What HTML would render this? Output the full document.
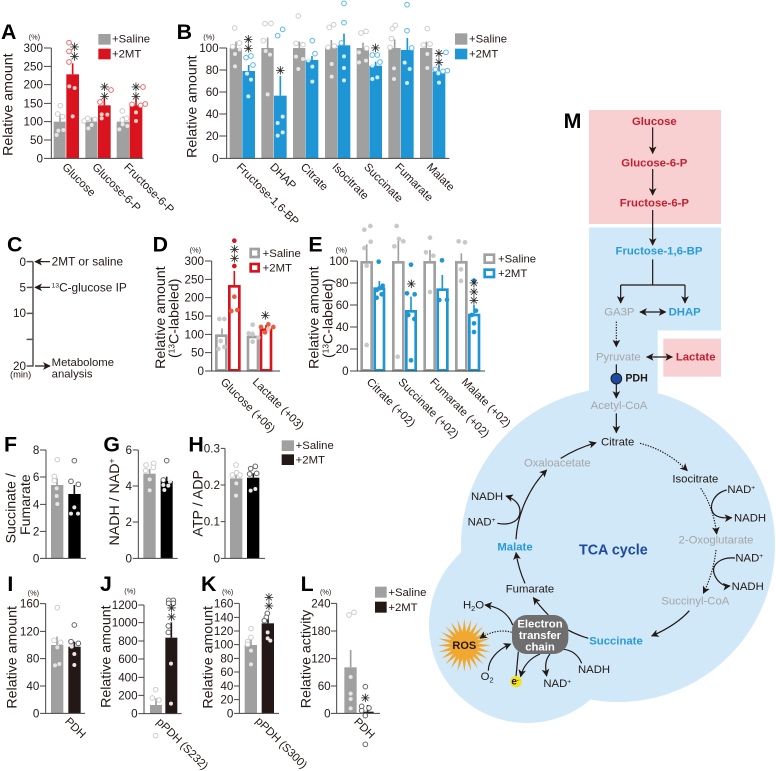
<!DOCTYPE html>
<html><head><meta charset="utf-8">
<style>
html,body{margin:0;padding:0;background:#fff}
svg{display:block}
text{font-family:"Liberation Sans",sans-serif;fill:#231815}
.tk{font-size:35px;text-anchor:end;fill:#231815}
.y{font-size:42.6px;text-anchor:middle;fill:#231815}
.l{font-size:34px;fill:#231815}
.p{font-size:22px;text-anchor:middle;fill:#231815}
.h{font-size:64px;font-weight:bold;fill:#000}
.s{font-family:"DejaVu Sans",sans-serif;font-size:34px;text-anchor:middle;fill:#222;stroke:#222;stroke-width:.7}
.ax{fill:none;stroke:#444;stroke-width:3}
.g{fill:#a0a0a0}.r{fill:#d9141e}.b{fill:#1e96d6}.k{fill:#000}.n{fill:#231815}
.eg{stroke:#a0a0a0;stroke-width:5}.er{stroke:#d9141e;stroke-width:5}.eb{stroke:#1e96d6;stroke-width:5}.ek{stroke:#231815;stroke-width:5}
circle{r:7px}
.gf circle,.rf circle,.bf circle,.kf circle{r:6px}
.go{fill:#fff;stroke:#ccc;stroke-width:3}.gf{fill:#e6e6e6}
.ro{fill:#fff;stroke:#ef6a6a;stroke-width:3}.rf{fill:#fcd0c8}
.bo{fill:#fff;stroke:#5bb8ea;stroke-width:3}.bf{fill:#d5ecf8}
.ko{fill:#fff;stroke:#666;stroke-width:3}.kf{fill:#e8e8e8}
.gs{fill:#c8c8c8}.bs{fill:#1e96d6}.os{fill:#ea5a3c}.rs{fill:#d9141e}
.og{fill:#fff;stroke:#a0a0a0;stroke-width:8}.orr{fill:#fff;stroke:#d9141e;stroke-width:8}.ob{fill:#fff;stroke:#1e96d6;stroke-width:8}
.a{fill:none;stroke:#231815;stroke-width:3.6;marker-end:url(#ah)}
.a2{fill:none;stroke:#231815;stroke-width:3.6;marker-end:url(#ah);marker-start:url(#ah)}
.d{fill:none;stroke:#231815;stroke-width:3.5;stroke-dasharray:4 4;marker-end:url(#ah)}
.ln{fill:none;stroke:#231815;stroke-width:3.6}
.m{font-size:34px;fill:#231815}
.mc{font-size:34px;fill:#231815;text-anchor:middle}
.mg{font-size:34px;fill:#a6a6a6;text-anchor:middle}
.mb{font-size:34px;font-weight:bold;fill:#2a9ad8;text-anchor:middle}
.mr{font-size:34px;font-weight:bold;fill:#c41e30;text-anchor:middle}
.mw{font-size:34px;font-weight:bold;fill:#fff;text-anchor:middle}
</style></head><body>
<svg xmlns="http://www.w3.org/2000/svg" width="776" height="771" viewBox="0 0 776 771">
<defs>
<marker id="ah" viewBox="0 0 10 10" refX="9" refY="5" markerUnits="userSpaceOnUse" markerWidth="23" markerHeight="23" orient="auto-start-reverse"><path d="M0 0L10 5L0 10L2.5 5z" fill="#231815"/></marker>
<path id="ray" d="M-6 -36L0 -80L6 -36z" fill="#f0a830"/>
</defs>

<!-- M background -->
<g fill="#d0e8f7">
<circle style="r:157px" cx="618" cy="545"/>
<circle style="r:98px" cx="527" cy="625"/>
<rect x="589" y="227.5" width="132" height="103"/>
<rect x="589" y="330" width="68.7" height="70"/>
</g>
<rect x="589" y="110" width="132" height="114" fill="#f8d0d2"/>
<rect x="663.3" y="338.7" width="57.7" height="38" fill="#f8d0d2"/>

<!-- A -->
<g transform="scale(.33333)">
<text class="h" x="3" y="117">A</text>
<text class="p" x="103" y="118">(%)</text>
<g class="tk"><text class="tk" x="129" y="156">300</text><text class="tk" x="129" y="211">250</text><text class="tk" x="129" y="266">200</text><text class="tk" x="129" y="322">150</text><text class="tk" x="129" y="377">100</text><text class="tk" x="129" y="432">50</text><text class="tk" x="129" y="487">0</text></g>
<text class="y" transform="translate(37 314) rotate(-90)">Relative amount</text>
<rect class="g" x="161" y="365" width="36" height="110"/><rect class="r" x="199" y="223" width="38" height="252"/>
<rect class="g" x="256" y="365" width="37" height="110"/><rect class="r" x="294" y="316" width="38" height="159"/>
<rect class="g" x="350" y="365" width="38" height="110"/><rect class="r" x="389" y="316" width="38" height="159"/>
<path class="eg" d="M180 365V340M275 365V352M369 365V350"/><path class="er" d="M218 223V190M313 316V295M408 316V295"/>
<path class="ax" d="M154 144V475H430M132 144H154M132 199H154M132 254H154M132 310H154M132 365H154M132 420H154M132 475H154"/>
<g class="go"><circle cx="181" cy="317"/><circle cx="173" cy="342"/><circle cx="188" cy="350"/><circle cx="252" cy="363"/><circle cx="263" cy="355"/><circle cx="285" cy="358"/><circle cx="367" cy="333"/><circle cx="380" cy="355"/><circle cx="367" cy="360"/></g>
<g class="gf"><circle cx="170" cy="405"/><circle cx="190" cy="390"/><circle cx="175" cy="392"/><circle cx="275" cy="375"/><circle cx="265" cy="385"/><circle cx="358" cy="388"/><circle cx="382" cy="378"/><circle cx="368" cy="373"/></g>
<g class="ro"><circle cx="207" cy="128"/><circle cx="207" cy="154"/><circle cx="207" cy="186"/><circle cx="333" cy="270"/><circle cx="300" cy="306"/><circle cx="429" cy="261"/><circle cx="396" cy="313"/><circle cx="422" cy="316"/><circle cx="436" cy="312"/></g>
<g class="rf"><circle cx="208" cy="259"/><circle cx="224" cy="264"/><circle cx="218" cy="349"/><circle cx="322" cy="344"/><circle cx="305" cy="355"/><circle cx="305" cy="343"/><circle cx="408" cy="363"/><circle cx="408" cy="337"/></g>
<text class="s" x="224" y="153">✳</text><text class="s" x="224" y="181">✳</text><text class="s" x="314" y="273">✳</text><text class="s" x="314" y="301">✳</text><text class="s" x="408" y="273">✳</text><text class="s" x="408" y="301">✳</text>
<rect class="g" x="295" y="102" width="37" height="32"/><rect class="r" x="295" y="146" width="37" height="32"/>
<text class="l" x="336" y="128">+Saline</text><text class="l" x="336" y="172">+2MT</text>
<text class="l" transform="translate(185 503) rotate(45)">Glucose</text>
<text class="l" transform="translate(275 503) rotate(45)">Glucose-6-P</text>
<text class="l" transform="translate(370 503) rotate(45)">Fructose-6-P</text>
</g>

<!-- B -->
<g transform="translate(180 0) scale(.33333)">
<text class="h" x="-10" y="117">B</text>
<text class="p" x="87" y="118">(%)</text>
<text class="tk" x="116" y="156">100</text><text class="tk" x="116" y="222">80</text><text class="tk" x="116" y="288">60</text><text class="tk" x="116" y="354">40</text><text class="tk" x="116" y="420">20</text><text class="tk" x="116" y="487">0</text>
<text class="y" transform="translate(50 320) rotate(-90)">Relative amount</text>
<g class="g"><rect x="149" y="144" width="37" height="331"/><rect x="244" y="144" width="37" height="331"/><rect x="339" y="144" width="37" height="331"/><rect x="435" y="144" width="37" height="331"/><rect x="530" y="144" width="37" height="331"/><rect x="625" y="144" width="37" height="331"/><rect x="720" y="144" width="37" height="331"/></g>
<g class="b"><rect x="187" y="213" width="38" height="262"/><rect x="282" y="287" width="38" height="188"/><rect x="377" y="180" width="38" height="295"/><rect x="473" y="136" width="38" height="339"/><rect x="568" y="197" width="38" height="278"/><rect x="663" y="150" width="38" height="325"/><rect x="758" y="215" width="38" height="260"/></g>
<path class="eg" d="M168 144V125M263 144V113M358 144V125M454 144V120M549 144V128M644 144V118M739 144V125"/>
<path class="eb" d="M206 213V195M301 287V228M396 180V168M492 136V101M587 197V185M682 150V114M777 215V197"/>
<path class="ax" d="M140 144V475H808M118 144H140M118 210H140M118 276H140M118 342H140M118 408H140M118 475H140"/>
<g class="go"><circle cx="164" cy="84"/><circle cx="158" cy="140"/><circle cx="178" cy="129"/><circle cx="255" cy="71"/><circle cx="273" cy="70"/><circle cx="250" cy="122"/><circle cx="355" cy="48"/><circle cx="348" cy="130"/><circle cx="369" cy="134"/><circle cx="448" cy="82"/><circle cx="461" cy="74"/><circle cx="463" cy="138"/><circle cx="444" cy="142"/><circle cx="543" cy="99"/><circle cx="558" cy="94"/><circle cx="560" cy="145"/><circle cx="637" cy="86"/><circle cx="646" cy="76"/><circle cx="634" cy="116"/><circle cx="630" cy="142"/><circle cx="742" cy="86"/><circle cx="730" cy="135"/><circle cx="750" cy="132"/></g>
<g class="gf"><circle cx="165" cy="162"/><circle cx="179" cy="148"/><circle cx="165" cy="199"/><circle cx="257" cy="153"/><circle cx="270" cy="164"/><circle cx="263" cy="283"/><circle cx="348" cy="170"/><circle cx="369" cy="177"/><circle cx="355" cy="207"/><circle cx="455" cy="192"/><circle cx="455" cy="230"/><circle cx="537" cy="157"/><circle cx="558" cy="182"/><circle cx="537" cy="187"/><circle cx="642" cy="205"/><circle cx="642" cy="237"/><circle cx="742" cy="162"/><circle cx="742" cy="204"/></g>
<g class="bo"><circle cx="198" cy="173"/><circle cx="213" cy="168"/><circle cx="219" cy="195"/><circle cx="293" cy="107"/><circle cx="308" cy="88"/><circle cx="397" cy="122"/><circle cx="405" cy="161"/><circle cx="492" cy="10"/><circle cx="492" cy="68"/><circle cx="484" cy="129"/><circle cx="577" cy="165"/><circle cx="592" cy="165"/><circle cx="600" cy="186"/><circle cx="681" cy="14"/><circle cx="681" cy="92"/><circle cx="695" cy="144"/><circle cx="766" cy="208"/><circle cx="798" cy="157"/><circle cx="802" cy="212"/><circle cx="789" cy="214"/></g>
<g class="bf"><circle cx="201" cy="221"/><circle cx="213" cy="239"/><circle cx="205" cy="289"/><circle cx="308" cy="350"/><circle cx="293" cy="369"/><circle cx="308" cy="397"/><circle cx="293" cy="407"/><circle cx="385" cy="181"/><circle cx="397" cy="200"/><circle cx="397" cy="245"/><circle cx="492" cy="169"/><circle cx="492" cy="204"/><circle cx="492" cy="241"/><circle cx="577" cy="197"/><circle cx="577" cy="237"/><circle cx="592" cy="232"/><circle cx="674" cy="188"/><circle cx="689" cy="207"/><circle cx="681" cy="249"/><circle cx="775" cy="220"/><circle cx="777" cy="248"/></g>
<text class="s" x="205" y="131">✳</text><text class="s" x="205" y="158">✳</text><text class="s" x="301" y="223">✳</text><text class="s" x="587" y="156">✳</text><text class="s" x="777" y="173">✳</text><text class="s" x="777" y="199">✳</text>
<rect class="g" x="825" y="100" width="37" height="34"/><rect class="b" x="825" y="146" width="37" height="32"/>
<text class="l" x="867" y="128">+Saline</text><text class="l" x="867" y="172">+2MT</text>
<text class="l" transform="translate(168 503) rotate(45)">Fructose-1,6-BP</text>
<text class="l" transform="translate(268 503) rotate(45)">DHAP</text>
<text class="l" transform="translate(360 503) rotate(45)">Citrate</text>
<text class="l" transform="translate(455 503) rotate(45)">Isocitrate</text>
<text class="l" transform="translate(550 503) rotate(45)">Succinate</text>
<text class="l" transform="translate(643 503) rotate(45)">Fumarate</text>
<text class="l" transform="translate(738 503) rotate(45)">Malate</text>
</g>

<!-- C D -->
<g transform="translate(0 215) scale(.33333)">
<text class="h" x="21" y="110">C</text>
<path d="M99 140V455M80 140H99M80 217H99M80 295H99M80 373H99M80 453H99" fill="none" stroke="#5a5050" stroke-width="4.5"/>
<text class="tk" x="78" y="153">0</text><text class="tk" x="78" y="229">5</text><text class="tk" x="78" y="306">10</text><text class="tk" x="78" y="465">20</text>
<text class="l" x="30" y="488" style="font-size:28px">(min)</text>
<path class="a" d="M150 140H105"/><path class="a" d="M150 217H105"/><path class="a" d="M105 453H150"/>
<text class="l" x="155" y="152" style="font-size:35.5px">2MT or saline</text>
<text class="l" x="155" y="229" style="font-size:35.5px"><tspan font-size="20" dy="-11">13</tspan><tspan dy="11">C-glucose IP</tspan></text>
<text class="l" x="155" y="453">Metabolome</text><text class="l" x="155" y="488">analysis</text>

<text class="h" x="458" y="110">D</text>
<text class="p" x="586" y="112">(%)</text>
<text class="tk" x="612" y="150">300</text><text class="tk" x="612" y="205">250</text><text class="tk" x="612" y="260">200</text><text class="tk" x="612" y="315">150</text><text class="tk" x="612" y="370">100</text><text class="tk" x="612" y="425">50</text><text class="tk" x="612" y="480">0</text>
<text class="y" transform="translate(495 308) rotate(-90)">Relative amount</text>
<text class="y" transform="translate(535 310) rotate(-90)">(<tspan font-size="25" dy="-12">13</tspan><tspan dy="12">C-labeled)</tspan></text>
<rect class="og" x="649" y="362" width="30" height="104"/><rect class="orr" x="688" y="214" width="30" height="252"/>
<rect class="og" x="744" y="366" width="30" height="100"/><rect class="orr" x="783" y="344" width="30" height="122"/>
<path class="eg" d="M666 358V340M758 362V350"/><path class="er" d="M703 210V168M798 340V330"/>
<path class="ax" d="M635 138V468H840M615 138H635M615 193H635M615 248H635M615 303H635M615 358H635M615 413H635M615 468H635"/>
<g class="gs"><circle cx="658" cy="312"/><circle cx="673" cy="312"/><circle cx="662" cy="378"/><circle cx="673" cy="396"/><circle cx="655" cy="402"/><circle cx="758" cy="329"/><circle cx="746" cy="355"/><circle cx="758" cy="358"/><circle cx="775" cy="368"/><circle cx="758" cy="380"/></g>
<g class="rs"><circle cx="703" cy="77"/><circle cx="703" cy="153"/></g>
<g class="os"><circle cx="703" cy="245"/><circle cx="694" cy="288"/><circle cx="712" cy="285"/><circle cx="783" cy="336"/><circle cx="805" cy="328"/><circle cx="820" cy="336"/><circle cx="795" cy="352"/></g>
<circle cx="805" cy="342" fill="#f9c8b8"/>
<text class="s" x="704" y="116">✳</text><text class="s" x="704" y="143">✳</text><text class="s" x="796" y="314">✳</text>
<rect class="og" x="752" y="102" width="24" height="24"/><rect class="orr" x="752" y="147" width="24" height="22"/>
<text class="l" x="788" y="126">+Saline</text><text class="l" x="788" y="170">+2MT</text>
<text class="l" transform="translate(660 503) rotate(45)">Glucose (+06)</text>
<text class="l" transform="translate(756 503) rotate(45)">Lactate (+03)</text>
</g>

<!-- E -->
<g transform="translate(270 215) scale(.33333)">
<text class="h" x="115" y="110">E</text>
<text class="p" x="214" y="112">(%)</text>
<text class="tk" x="236" y="150">100</text><text class="tk" x="236" y="216">80</text><text class="tk" x="236" y="282">60</text><text class="tk" x="236" y="348">40</text><text class="tk" x="236" y="414">20</text><text class="tk" x="236" y="480">0</text>
<text class="y" transform="translate(145 308) rotate(-90)">Relative amount</text>
<text class="y" transform="translate(187 310) rotate(-90)">(<tspan font-size="25" dy="-12">13</tspan><tspan dy="12">C-labeled)</tspan></text>
<rect class="og" x="275" y="142" width="30" height="324"/><rect class="ob" x="314" y="221" width="28" height="245"/>
<rect class="og" x="370" y="142" width="30" height="324"/><rect class="ob" x="409" y="289" width="28" height="177"/>
<rect class="og" x="464" y="142" width="30" height="324"/><rect class="ob" x="503" y="224" width="29" height="242"/>
<rect class="og" x="559" y="142" width="30" height="324"/><rect class="ob" x="598" y="300" width="29" height="166"/>
<path class="eg" d="M290 138V88M385 138V75M480 138V105M574 138V115"/><path class="eb" d="M328 217V198M423 285V245M517 220V180M612 296V270"/>
<path class="ax" d="M262 138V468H645M240 138H262M240 204H262M240 270H262M240 336H262M240 402H262M240 468H262"/>
<g class="gs"><circle cx="301" cy="33"/><circle cx="283" cy="44"/><circle cx="302" cy="80"/><circle cx="283" cy="99"/><circle cx="290" cy="152"/><circle cx="290" cy="390"/><circle cx="380" cy="33"/><circle cx="387" cy="72"/><circle cx="400" cy="79"/><circle cx="373" cy="94"/><circle cx="383" cy="425"/><circle cx="480" cy="68"/><circle cx="468" cy="112"/><circle cx="490" cy="122"/><circle cx="480" cy="231"/><circle cx="566" cy="79"/><circle cx="585" cy="82"/><circle cx="573" cy="163"/><circle cx="573" cy="198"/></g>
<g class="bs"><circle cx="326" cy="140"/><circle cx="320" cy="225"/><circle cx="338" cy="212"/><circle cx="328" cy="220"/><circle cx="320" cy="248"/><circle cx="335" cy="238"/><circle cx="423" cy="149"/><circle cx="411" cy="235"/><circle cx="434" cy="238"/><circle cx="415" cy="300"/><circle cx="433" cy="312"/><circle cx="423" cy="436"/><circle cx="516" cy="136"/><circle cx="508" cy="255"/><circle cx="531" cy="254"/><circle cx="612" cy="197"/><circle cx="618" cy="287"/><circle cx="612" cy="325"/><circle cx="612" cy="351"/><circle cx="605" cy="300"/></g>
<text class="s" x="424" y="219">✳</text><text class="s" x="612" y="216">✳</text><text class="s" x="612" y="243">✳</text><text class="s" x="612" y="269">✳</text>
<rect class="og" x="644" y="119" width="28" height="24"/><rect class="ob" x="644" y="164" width="28" height="22"/>
<text class="l" x="684" y="143">+Saline</text><text class="l" x="684" y="186">+2MT</text>
<text class="l" transform="translate(288 503) rotate(45)">Citrate (+02)</text>
<text class="l" transform="translate(383 503) rotate(45)">Succinate (+02)</text>
<text class="l" transform="translate(478 503) rotate(45)">Fumarate (+02)</text>
<text class="l" transform="translate(573 503) rotate(45)">Malate (+02)</text>
</g>

<!-- F G H -->
<g transform="translate(0 420) scale(.33333)">
<text class="h" x="12" y="95">F</text><text class="h" x="310" y="95">G</text><text class="h" x="565" y="95">H</text>
<text class="tk" x="118" y="102">8</text><text class="tk" x="118" y="183">6</text><text class="tk" x="118" y="265">4</text><text class="tk" x="118" y="346">2</text><text class="tk" x="118" y="427">0</text>
<text class="y" transform="translate(47 265) rotate(-90)">Succinate /</text>
<text class="y" transform="translate(90 254) rotate(-90)">Fumarate</text>
<rect class="g" x="153" y="195" width="37" height="220"/><rect class="k" x="205" y="222" width="37" height="193"/>
<path class="eg" d="M171 195V175"/><path class="ek" d="M223 222V195"/>
<path class="ax" d="M138 90V415H258M120 90H138M120 171H138M120 253H138M120 334H138M120 415H138"/>
<g class="go"><circle cx="172" cy="119"/><circle cx="163" cy="169"/><circle cx="163" cy="182"/></g><g class="gf"><circle cx="170" cy="205"/><circle cx="170" cy="228"/><circle cx="172" cy="252"/></g>
<g class="ko"><circle cx="223" cy="122"/><circle cx="213" cy="184"/><circle cx="235" cy="193"/></g><g class="kf"><circle cx="223" cy="262"/><circle cx="213" cy="281"/><circle cx="234" cy="281"/></g>

<text class="tk" x="396" y="102">6</text><text class="tk" x="396" y="210">4</text><text class="tk" x="396" y="318">2</text><text class="tk" x="396" y="427">0</text>
<text class="y" transform="translate(357 246) rotate(-90)">NADH / NAD<tspan font-size="26" dy="-13">+</tspan></text>
<rect class="g" x="430" y="161" width="37" height="254"/><rect class="k" x="482" y="183" width="36" height="232"/>
<path class="eg" d="M449 161V147"/><path class="ek" d="M500 183V170"/>
<path class="ax" d="M415 90V415H533M398 90H415M398 198H415M398 306H415M398 415H415"/>
<g class="go"><circle cx="438" cy="135"/><circle cx="461" cy="130"/><circle cx="460" cy="142"/><circle cx="437" cy="152"/></g><g class="gf"><circle cx="449" cy="178"/><circle cx="449" cy="211"/></g>
<g class="ko"><circle cx="500" cy="122"/><circle cx="490" cy="180"/></g><g class="kf"><circle cx="490" cy="195"/><circle cx="510" cy="185"/><circle cx="505" cy="197"/><circle cx="493" cy="210"/></g>

<text class="tk" x="660" y="97">0.3</text><text class="tk" x="660" y="207">0.2</text><text class="tk" x="660" y="317">0.1</text><text class="tk" x="660" y="427">0</text>
<text class="y" transform="translate(607 250) rotate(-90)">ATP / ADP</text>
<rect class="g" x="690" y="175" width="37" height="240"/><rect class="k" x="741" y="173" width="37" height="242"/>
<path class="eg" d="M708 175V155"/><path class="ek" d="M760 173V160"/>
<path class="ax" d="M675 85V415H795M662 85H675M662 195H675M662 305H675M662 415H675"/>
<g class="go"><circle cx="708" cy="135"/><circle cx="697" cy="165"/><circle cx="710" cy="158"/><circle cx="720" cy="165"/></g><g class="gf"><circle cx="709" cy="190"/><circle cx="708" cy="227"/></g>
<g class="ko"><circle cx="752" cy="146"/><circle cx="766" cy="139"/><circle cx="749" cy="162"/><circle cx="770" cy="160"/></g><g class="kf"><circle cx="766" cy="207"/><circle cx="752" cy="212"/></g>
<rect class="g" x="845" y="61" width="37" height="32"/><rect class="n" x="845" y="103" width="37" height="32"/>
<text class="l" x="887" y="87">+Saline</text><text class="l" x="887" y="130">+2MT</text>
</g>

<!-- I J -->
<g transform="translate(0 585) scale(.33333)">
<text class="h" x="22" y="18">I</text><text class="h" x="300" y="18">J</text>
<text class="p" x="100" y="32">(%)</text>
<text class="tk" x="118" y="68">160</text><text class="tk" x="118" y="151">120</text><text class="tk" x="118" y="233">80</text><text class="tk" x="118" y="315">40</text><text class="tk" x="118" y="397">0</text>
<text class="y" transform="translate(50 217) rotate(-90)">Relative amount</text>
<rect class="g" x="153" y="180" width="37" height="205"/><rect class="n" x="205" y="185" width="37" height="200"/>
<path class="eg" d="M171 180V155"/><path class="ek" d="M223 185V170"/>
<path class="ax" d="M137 56V385H255M120 56H137M120 139H137M120 221H137M120 303H137M120 385H137"/>
<g class="go"><circle cx="172" cy="68"/><circle cx="162" cy="166"/><circle cx="182" cy="172"/></g><g class="gf"><circle cx="172" cy="187"/><circle cx="165" cy="241"/><circle cx="178" cy="237"/></g>
<g class="ko"><circle cx="223" cy="120"/><circle cx="213" cy="170"/><circle cx="235" cy="175"/></g><g class="kf"><circle cx="215" cy="185"/><circle cx="223" cy="207"/><circle cx="223" cy="240"/></g>
<text class="l" transform="translate(193 411) rotate(45)">PDH</text>

<text class="p" x="390" y="26">(%)</text>
<text class="tk" x="413" y="72">1200</text><text class="tk" x="413" y="125">1000</text><text class="tk" x="413" y="180">800</text><text class="tk" x="413" y="234">600</text><text class="tk" x="413" y="289">400</text><text class="tk" x="413" y="343">200</text><text class="tk" x="413" y="398">0</text>
<text class="y" transform="translate(332 215) rotate(-90)">Relative amount</text>
<rect class="g" x="450" y="360" width="36" height="26"/><rect class="n" x="496" y="158" width="36" height="228"/>
<path class="eg" d="M468 360V340"/><path class="ek" d="M514 158V112"/>
<path class="ax" d="M432 60V386H545M415 60H432M415 113H432M415 168H432M415 222H432M415 277H432M415 331H432M415 386H432"/>
<g class="go"><circle cx="467" cy="314"/><circle cx="457" cy="339"/><circle cx="477" cy="345"/><circle cx="467" cy="452"/></g>
<g class="ko"><circle cx="506" cy="46"/><circle cx="520" cy="46"/><circle cx="506" cy="55"/><circle cx="520" cy="55"/><circle cx="505" cy="123"/><circle cx="505" cy="142"/></g><g class="kf"><circle cx="513" cy="236"/><circle cx="513" cy="356"/></g>
<text class="s" x="515" y="81">✳</text><text class="s" x="515" y="108">✳</text>
<text class="l" transform="translate(468 413) rotate(45)">pPDH (S232)</text>
</g>

<!-- K L -->
<g transform="translate(210 585) scale(.33333)">
<text class="h" x="-27" y="18">K</text><text class="h" x="272" y="18">L</text>
<text class="p" x="53" y="28">(%)</text>
<text class="tk" x="70" y="67">160</text><text class="tk" x="70" y="109">140</text><text class="tk" x="70" y="150">120</text><text class="tk" x="70" y="191">100</text><text class="tk" x="70" y="232">80</text><text class="tk" x="70" y="273">60</text><text class="tk" x="70" y="315">40</text><text class="tk" x="70" y="356">20</text><text class="tk" x="70" y="397">0</text>
<text class="y" transform="translate(8 217) rotate(-90)">Relative amount</text>
<rect class="g" x="104" y="180" width="37" height="205"/><rect class="n" x="155" y="115" width="37" height="270"/>
<path class="eg" d="M123 180V158"/><path class="ek" d="M174 115V90"/>
<path class="ax" d="M88 55V385H207M72 55H88M72 97H88M72 138H88M72 179H88M72 220H88M72 261H88M72 303H88M72 344H88M72 385H88"/>
<g class="go"><circle cx="123" cy="131"/><circle cx="123" cy="157"/><circle cx="113" cy="170"/><circle cx="113" cy="178"/></g><g class="gf"><circle cx="123" cy="197"/><circle cx="123" cy="238"/></g>
<g class="ko"><circle cx="172" cy="85"/><circle cx="169" cy="97"/><circle cx="163" cy="107"/></g><g class="kf"><circle cx="173" cy="142"/><circle cx="173" cy="160"/><circle cx="181" cy="167"/></g>
<text class="s" x="177" y="49">✳</text><text class="s" x="177" y="75">✳</text>
<text class="l" transform="translate(135 410) rotate(45)">pPDH (S300)</text>

<text class="p" x="347" y="28">(%)</text>
<text class="tk" x="362" y="67">240</text><text class="tk" x="362" y="150">180</text><text class="tk" x="362" y="233">120</text><text class="tk" x="362" y="315">60</text><text class="tk" x="362" y="397">0</text>
<text class="y" transform="translate(302 222) rotate(-90)">Relative activity</text>
<rect class="g" x="403" y="247" width="37" height="138"/><rect class="n" x="454" y="380" width="37" height="5"/>
<path class="eg" d="M422 247V195"/><path class="ek" d="M473 380V360"/>
<path class="ax" d="M380 55V385H510M363 55H380M363 138H380M363 221H380M363 303H380M363 385H380"/>
<g class="go"><circle cx="417" cy="90"/><circle cx="432" cy="82"/></g><g class="gf"><circle cx="422" cy="276"/><circle cx="422" cy="326"/><circle cx="422" cy="342"/><circle cx="422" cy="370"/></g>
<g class="ko"><circle cx="466" cy="305"/><circle cx="455" cy="364"/><circle cx="477" cy="369"/><circle cx="455" cy="377"/><circle cx="466" cy="392"/><circle cx="466" cy="478"/></g>
<text class="s" x="466" y="351">✳</text>
<text class="l" transform="translate(430 412) rotate(45)">PDH</text>
<rect class="g" x="495" y="5" width="35" height="33"/><rect class="n" x="495" y="50" width="35" height="33"/>
<text class="l" x="535" y="33">+Saline</text><text class="l" x="535" y="78">+2MT</text>
</g>

<!-- M upper -->
<g transform="translate(550 100) scale(.33333)">
<text class="h" x="41" y="84">M</text>
<text class="mr" x="313" y="75">Glucose</text>
<text class="mr" x="313" y="199">Glucose-6-P</text>
<text class="mr" x="313" y="320">Fructose-6-P</text>
<text class="mb" x="327" y="463">Fructose-1,6-BP</text>
<path class="a" d="M308 82V160"/><path class="a" d="M308 207V285"/><path class="a" d="M308 330V435"/>
<path class="ln" d="M308 478V555M212 555H405"/>
<path class="a" d="M212 555V609"/><path class="a" d="M405 555V609"/>
</g>
<g transform="translate(550 280) scale(.33333)">
<text class="mg" x="208" y="107">GA3P</text>
<text class="mb" x="404" y="107">DHAP</text>
<path class="a2" d="M270 96H347"/>
<path class="d" d="M199 125V200"/>
<text class="mg" x="205" y="242">Pyruvate</text>
<text class="mr" x="437" y="242">Lactate</text>
<path class="a2" d="M290 231H367"/>
<path class="ln" d="M199 253V280"/><path class="a" d="M199 310V354"/>
<circle style="r:16px" cx="199" cy="296" fill="#1c4aa0" stroke="#231815" stroke-width="3"/>
<text x="226" y="305" style="font-size:32px;font-weight:bold;fill:#231815">PDH</text>
<text class="mg" x="207" y="387">Acetyl-CoA</text>
<path class="a" d="M199 400V458"/>
</g>
<!-- TCA -->
<g transform="translate(430 400) scale(.33333)">
<text class="mc" x="563" y="136">Citrate</text>
<text class="mg" x="382" y="199">Oxaloacetate</text>
<text class="mc" x="796" y="247">Isocitrate</text>
<text class="m" x="892" y="279">NAD<tspan font-size="20" dy="-10">+</tspan></text>
<text class="m" x="912" y="365">NADH</text>
<text class="mg" x="858" y="431">2-Oxoglutarate</text>
<text class="m" x="916" y="484">NAD<tspan font-size="20" dy="-10">+</tspan></text>
<text class="m" x="905" y="570">NADH</text>
<text class="mb" x="255" y="452">Malate</text>
<text class="m" x="123" y="300">NADH</text>
<text class="m" x="113" y="376">NAD<tspan font-size="20" dy="-10">+</tspan></text>
<text x="550" y="464" style="font-size:43px;font-weight:bold;fill:#1c4aa0;text-anchor:middle">TCA cycle</text>
<path class="a" d="M392 175Q440 145 498 128"/>
<path class="a" d="M258 418C262 340 300 260 350 210"/>
<path class="a" d="M202 370C245 378 270 360 270 335C270 310 250 295 228 288"/>
<path class="a" d="M285 550Q265 505 258 458"/>
<path class="d" d="M630 130Q710 150 772 212"/>
<path class="d" d="M812 265Q850 320 860 402"/>
<path class="a" d="M890 270C850 280 835 320 850 340C860 352 880 355 905 353"/>
<path class="d" d="M858 450Q850 520 820 580"/>
<path class="a" d="M915 474C870 470 845 495 852 520C860 545 880 560 900 558"/>
</g>
<g transform="translate(430 570) scale(.33333)">
<text class="mc" x="300" y="68">Fumarate</text>
<text class="mg" x="796" y="104">Succinyl-CoA</text>
<text class="mb" x="558" y="224">Succinate</text>
<text class="m" x="99" y="116">H<tspan font-size="22" dy="7">2</tspan><tspan dy="-7">O</tspan></text>
<g transform="translate(103 226)">
<use href="#ray"/><use href="#ray" transform="rotate(15)"/><use href="#ray" transform="rotate(30)"/><use href="#ray" transform="rotate(45)"/><use href="#ray" transform="rotate(60)"/><use href="#ray" transform="rotate(75)"/><use href="#ray" transform="rotate(90)"/><use href="#ray" transform="rotate(105)"/><use href="#ray" transform="rotate(120)"/><use href="#ray" transform="rotate(135)"/><use href="#ray" transform="rotate(150)"/><use href="#ray" transform="rotate(165)"/><use href="#ray" transform="rotate(180)"/><use href="#ray" transform="rotate(195)"/><use href="#ray" transform="rotate(210)"/><use href="#ray" transform="rotate(225)"/><use href="#ray" transform="rotate(240)"/><use href="#ray" transform="rotate(255)"/><use href="#ray" transform="rotate(270)"/><use href="#ray" transform="rotate(285)"/><use href="#ray" transform="rotate(300)"/><use href="#ray" transform="rotate(315)"/><use href="#ray" transform="rotate(330)"/><use href="#ray" transform="rotate(345)"/>
<circle style="r:42px" cx="0" cy="0" fill="#f0a830"/>
</g>
<text x="103" y="237" style="font-size:33px;font-weight:bold;fill:#231815;text-anchor:middle">ROS</text>
<path class="a" d="M778 122Q740 165 665 198"/>
<path class="ln" d="M475 205Q440 195 410 178"/>
<path class="a" d="M355 135Q335 115 310 83"/>
<path class="a" d="M248 165C235 130 205 110 165 105"/>
<path class="d" d="M245 187C215 178 180 185 150 205"/>
<path class="a" d="M175 302C175 270 200 240 242 222"/>
<path class="ln" d="M265 245L258 320"/>
<path class="a" d="M330 252C300 265 280 285 272 320"/>
<path class="a" d="M360 252C345 270 345 290 350 318"/>
<path class="ln" d="M455 280C445 255 425 240 400 238"/>
<rect x="246" y="135" width="169" height="117" rx="45" fill="#6e6e6e"/>
<text class="mw" x="330" y="173">Electron</text><text class="mw" x="330" y="207">transfer</text><text class="mw" x="330" y="241">chain</text>
<text class="m" x="152" y="330">O<tspan font-size="22" dy="7">2</tspan></text>
<circle style="r:17px" cx="258" cy="335" fill="#f5e11e"/>
<text x="255" y="344" style="font-size:30px;font-weight:bold;fill:#231815;text-anchor:middle">e<tspan font-size="16" dy="-10">-</tspan></text>
<text class="m" x="340" y="351">NAD<tspan font-size="20" dy="-10">+</tspan></text>
<text class="m" x="444" y="309">NADH</text>
</g>
</svg>
</body></html>
